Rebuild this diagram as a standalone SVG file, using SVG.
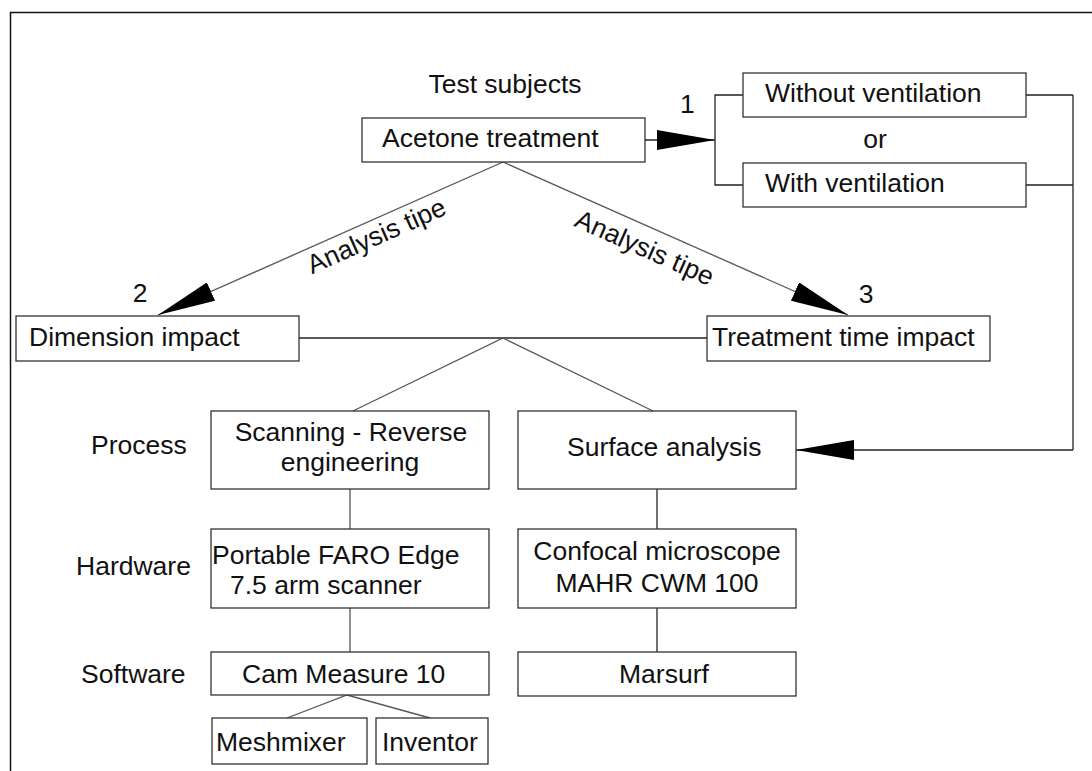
<svg xmlns="http://www.w3.org/2000/svg" width="1092" height="771" viewBox="0 0 1092 771">
<defs>
<style>
.box{fill:#fff;stroke:#333;stroke-width:1.3}
.t{font-family:"Liberation Sans",Arial,sans-serif;font-size:26.5px;fill:#111}
.m{text-anchor:middle}
.ln{fill:none;stroke:#222;stroke-width:1.3}
.dg{fill:none;stroke:#555;stroke-width:1.3}
</style>
<marker id="arrow" viewBox="0 0 58 20" markerWidth="58" markerHeight="20" refX="58" refY="10" orient="auto" markerUnits="userSpaceOnUse">
<path d="M0,0 L58,10 L0,20 Z" fill="#000"/>
</marker>
</defs>
<rect width="1092" height="771" fill="#fff"/>
<path d="M10.5,771 V12.5 H1092" fill="none" stroke="#111" stroke-width="1.5"/>

<g id="connectors">
<line class="ln" x1="645" y1="140" x2="715" y2="140" marker-end="url(#arrow)"/>
<path class="ln" d="M743,95 H715 V185 H743"/>
<path class="ln" d="M1026,95 H1073 M1026,185 H1073 M1073,95 V450"/>
<line class="ln" x1="1073" y1="450" x2="796" y2="450" marker-end="url(#arrow)"/>
<line class="dg" x1="503" y1="162" x2="158" y2="315" marker-end="url(#arrow)"/>
<line class="dg" x1="503" y1="162" x2="848" y2="315" marker-end="url(#arrow)"/>
<line class="ln" x1="299" y1="338" x2="707" y2="338"/>
<path class="dg" d="M353,411 L503,338 L653,411"/>
<line class="dg" x1="350" y1="489" x2="350" y2="529"/>
<line class="dg" x1="350" y1="608" x2="350" y2="652"/>
<line class="ln" x1="657" y1="489" x2="657" y2="529"/>
<line class="ln" x1="657" y1="608" x2="657" y2="652"/>
<path class="dg" d="M287,718 L347,695 L430,718"/>
</g>

<g id="labels">
<text class="t m" x="505" y="93">Test subjects</text>
<text class="t" x="680" y="113">1</text>
<text class="t m" x="875" y="148">or</text>
<text class="t m" x="140" y="302">2</text>
<text class="t m" x="866" y="303">3</text>
<text class="t m" x="380" y="244" transform="rotate(-24 380 244)">Analysis tipe</text>
<text class="t m" x="641" y="256" transform="rotate(24 641 256)">Analysis tipe</text>
<text class="t" x="91" y="454">Process</text>
<text class="t" x="76" y="575">Hardware</text>
<text class="t" x="81" y="683">Software</text>
</g>

<g id="acetone">
<rect class="box" x="362" y="118" width="283" height="44"/>
<text class="t" x="382" y="147">Acetone treatment</text>
</g>
<g id="without-ventilation">
<rect class="box" x="743" y="73" width="283" height="44"/>
<text class="t" x="765" y="102">Without ventilation</text>
</g>
<g id="with-ventilation">
<rect class="box" x="743" y="163" width="283" height="44"/>
<text class="t" x="765" y="192">With ventilation</text>
</g>
<g id="dimension-impact">
<rect class="box" x="16" y="316" width="283" height="45"/>
<text class="t" x="29" y="346">Dimension impact</text>
</g>
<g id="treatment-time-impact">
<rect class="box" x="707" y="316" width="283" height="45"/>
<text class="t" x="712" y="346">Treatment time impact</text>
</g>
<g id="scanning">
<rect class="box" x="211" y="411" width="278" height="78"/>
<text class="t m" x="351" y="441">Scanning - Reverse</text>
<text class="t m" x="350" y="471">engineering</text>
</g>
<g id="surface-analysis">
<rect class="box" x="518" y="411" width="278" height="78"/>
<text class="t" x="567" y="456">Surface analysis</text>
</g>
<g id="faro">
<rect class="box" x="211" y="529" width="278" height="79"/>
<text class="t" x="212" y="564">Portable FARO Edge</text>
<text class="t" x="230" y="594">7.5 arm scanner</text>
</g>
<g id="confocal">
<rect class="box" x="518" y="529" width="278" height="79"/>
<text class="t m" x="657" y="560">Confocal microscope</text>
<text class="t m" x="657" y="592">MAHR CWM 100</text>
</g>
<g id="cam-measure">
<rect class="box" x="211" y="652" width="278" height="43"/>
<text class="t" x="242" y="683">Cam Measure 10</text>
</g>
<g id="marsurf">
<rect class="box" x="518" y="652" width="278" height="44"/>
<text class="t" x="619" y="683">Marsurf</text>
</g>
<g id="meshmixer">
<rect class="box" x="212" y="718" width="155" height="46"/>
<text class="t" x="216" y="751">Meshmixer</text>
</g>
<g id="inventor">
<rect class="box" x="376" y="718" width="112" height="46"/>
<text class="t" x="382" y="751">Inventor</text>
</g>
</svg>
